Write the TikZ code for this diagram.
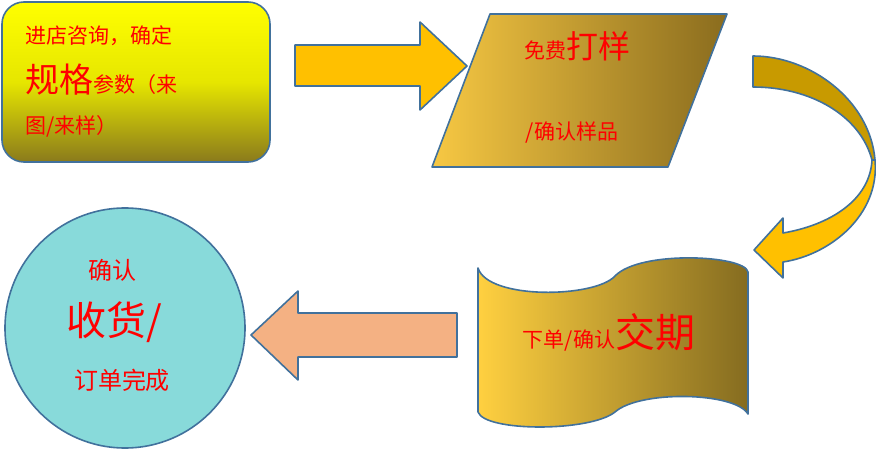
\documentclass[tikz,border=0pt]{standalone}
\usepackage{fontspec}
\newfontfamily\cjk{Noto Sans CJK SC}
\begin{document}
\begin{tikzpicture}[x=1pt,y=-1pt,
  bd/.style={draw=bordc,line width=1.6pt,line join=round},
  t/.style={text=red,font=\cjk\fontsize{21}{24}\selectfont,inner sep=0pt},
  big/.style={font=\cjk\fontsize{34}{38}\selectfont}]
\definecolor{bordc}{HTML}{41719C}
\definecolor{gold}{HTML}{F7C843}
\definecolor{brown}{HTML}{8A6C1E}
\useasboundingbox (0,0) rectangle (876,449);
% box 1
\node[bd,rounded corners=22pt,minimum width=268pt,minimum height=160pt,
  top color=yellow,bottom color={rgb,255:red,138;green,122;blue,28},
  middle color={rgb,255:red,230;green,230;blue,0}] (b1) at (136,82) {};
\node[t,anchor=west] (b1a) at (25,36) {进店咨询，确定};
\node[t,anchor=west] (b1b) at (25,80) {{\fontsize{34}{38}\selectfont 规格}参数（来};
\node[t,anchor=west] (b1c) at (25,126) {图/来样）};
% arrow 1
\path[bd,fill={rgb,255:red,255;green,192;blue,0}]
 (295,45) -- (420,45) -- (420,22) -- (467,66) -- (420,110) -- (420,86) -- (295,86) -- cycle;
% parallelogram
\path[bd,left color=gold,right color=brown]
 (490,14) -- (727,14) -- (668,167) -- (432,167) -- cycle;
\node[t] (p1) at (577,46) {免费{\fontsize{32}{36}\selectfont 打样}};
\node[t] (p2) at (572,133) {/确认样品};
% curved arrow
\path[bd,fill={rgb,255:red,200;green,154;blue,0}]
 (753,56) .. controls (810,56) and (870,100) .. (875,160)
 -- (872,160) .. controls (860,115) and (810,87) .. (753,87) -- cycle;
\path[bd,fill={rgb,255:red,255;green,192;blue,0}]
 (875,160) .. controls (880,215) and (830,255) .. (783,262)
 -- (783,278) -- (754,250) -- (783,218) -- (783,233)
 .. controls (830,225) and (870,200) .. (872,160) -- cycle;
% tape
\path[bd,left color={rgb,255:red,255;green,208;blue,64},right color={rgb,255:red,133;green,108;blue,32}]
 (478,268) .. controls (488,300) and (595,298) .. (615,276)
 .. controls (640,250) and (745,255) .. (748,272)
 -- (748,414) .. controls (735,392) and (640,390) .. (615,412)
 .. controls (590,432) and (485,432) .. (478,412) -- cycle;
\node[t] (tp) at (609,332) {下单/确认{\fontsize{40}{44}\selectfont 交期}};
% arrow 2
\path[bd,fill={rgb,255:red,244;green,177;blue,131}]
 (457,313) -- (298,313) -- (298,291) -- (251,335) -- (298,380) -- (298,357) -- (457,357) -- cycle;
% circle
\node[bd,circle,minimum size=240pt,fill={rgb,255:red,136;green,218;blue,218}] (c) at (125,328) {};
\node[t,font=\cjk\fontsize{24}{28}\selectfont] (c1) at (112,270) {确认};
\node[t,font=\cjk\fontsize{40}{44}\selectfont] (c2) at (114,322) {收货/};
\node[t,font=\cjk\fontsize{24}{28}\selectfont] (c3) at (122,380) {订单完成};
\end{tikzpicture}
\end{document}
